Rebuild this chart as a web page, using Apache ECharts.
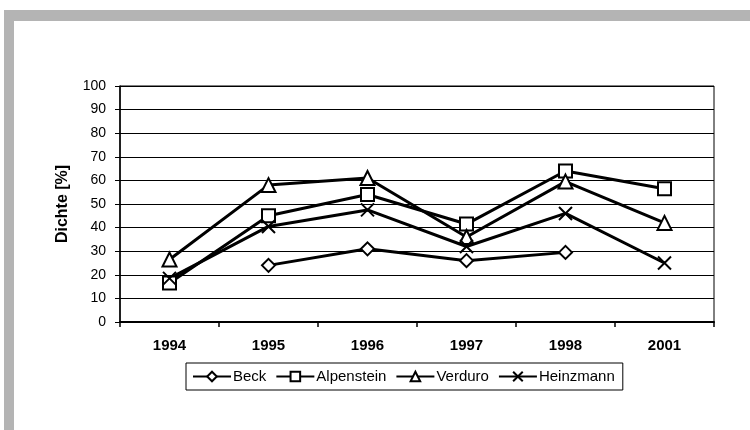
<!DOCTYPE html>
<html>
<head>
<meta charset="utf-8">
<script src="https://cdn.jsdelivr.net/npm/echarts@6/dist/echarts.min.js"></script>
<style>
  html, body { margin: 0; padding: 0; background: #fff; }
  #chart { width: 750px; height: 430px; }
</style>
</head>
<body>
<div id="chart"></div>
<script>
// Daten
var years = ['1994', '1995', '1996', '1997', '1998', '2001'];
var beck = [null, 24, 31, 26, 29.5, null];
var alpenstein = [16.5, 45, 54, 41.5, 64, 56.5];
var verduro = [26.5, 58, 61, 36, 59.5, 42];
var heinzmann = [18.5, 40.5, 47.5, 32, 46, 25];
var yTicks = [0, 10, 20, 30, 40, 50, 60, 70, 80, 90, 100];

var crossSymbol = 'path://M0,0L10,10M10,0L0,10';

var makeSeries = function(name, data, symbol, size) {
	return {
		name: name,
		type: 'line',
		data: data,
		symbol: symbol,
		symbolSize: size,
		connectNulls: false,
		lineStyle: { color: '#000', width: 3 },
		itemStyle: { color: '#fff', borderColor: '#000', borderWidth: 2 },
		emphasis: { disabled: true },
		z: 2
	};
};

var myChart = echarts.init(document.getElementById('chart'));

var option = {
	animation: false,
	textStyle: { fontFamily: 'Liberation Sans, Arial, sans-serif', color: '#000' },
	graphic: [
		{ type: 'rect', shape: { x: 4, y: 10, width: 746, height: 11 }, style: { fill: '#b4b4b4' }, silent: true },
		{ type: 'rect', shape: { x: 4, y: 10, width: 10, height: 420 }, style: { fill: '#b4b4b4' }, silent: true }
	],
	grid: {
		left: 120, right: 36, top: 86, bottom: 108,
		show: true, borderColor: '#000', borderWidth: 1
	},
	legend: {
		left: 186, top: 363,
		padding: [6, 8, 6, 6],
		itemGap: 9,
		itemWidth: 38, itemHeight: 12,
		borderColor: '#000', borderWidth: 1,
		textStyle: { fontSize: 15, color: '#000', padding: [0, 0, 0, -3] },
		data: ['Beck', 'Alpenstein', 'Verduro', 'Heinzmann']
	},
	xAxis: {
		type: 'category',
		data: years,
		boundaryGap: true,
		axisLine: { lineStyle: { color: '#000', width: 2 } },
		axisTick: { show: true, length: 5, lineStyle: { color: '#000', width: 1.5 } },
		axisLabel: { fontSize: 15, fontWeight: 'bold', color: '#000', margin: 16 }
	},
	yAxis: {
		type: 'value',
		min: 0, max: 100, interval: 10,
		name: 'Dichte [%]',
		nameLocation: 'middle',
		nameGap: 49,
		nameTextStyle: { fontSize: 16, fontWeight: 'bold', color: '#000' },
		axisLine: { show: true, lineStyle: { color: '#000', width: 1.5 } },
		axisTick: { show: true, length: 5, lineStyle: { color: '#000' } },
		axisLabel: {
			fontSize: 14, color: '#000', margin: 14,
			formatter: function(v) { return yTicks.indexOf(v) >= 0 ? String(v) : ''; }
		},
		splitLine: { show: true, lineStyle: { color: '#000', width: 1 } }
	},
	series: [
		makeSeries('Beck', beck, 'diamond', 13),
		makeSeries('Alpenstein', alpenstein, 'rect', 13),
		makeSeries('Verduro', verduro, 'triangle', 14),
		makeSeries('Heinzmann', heinzmann, crossSymbol, 13)
	]
};

myChart.setOption(option);
</script>
</body>
</html>
